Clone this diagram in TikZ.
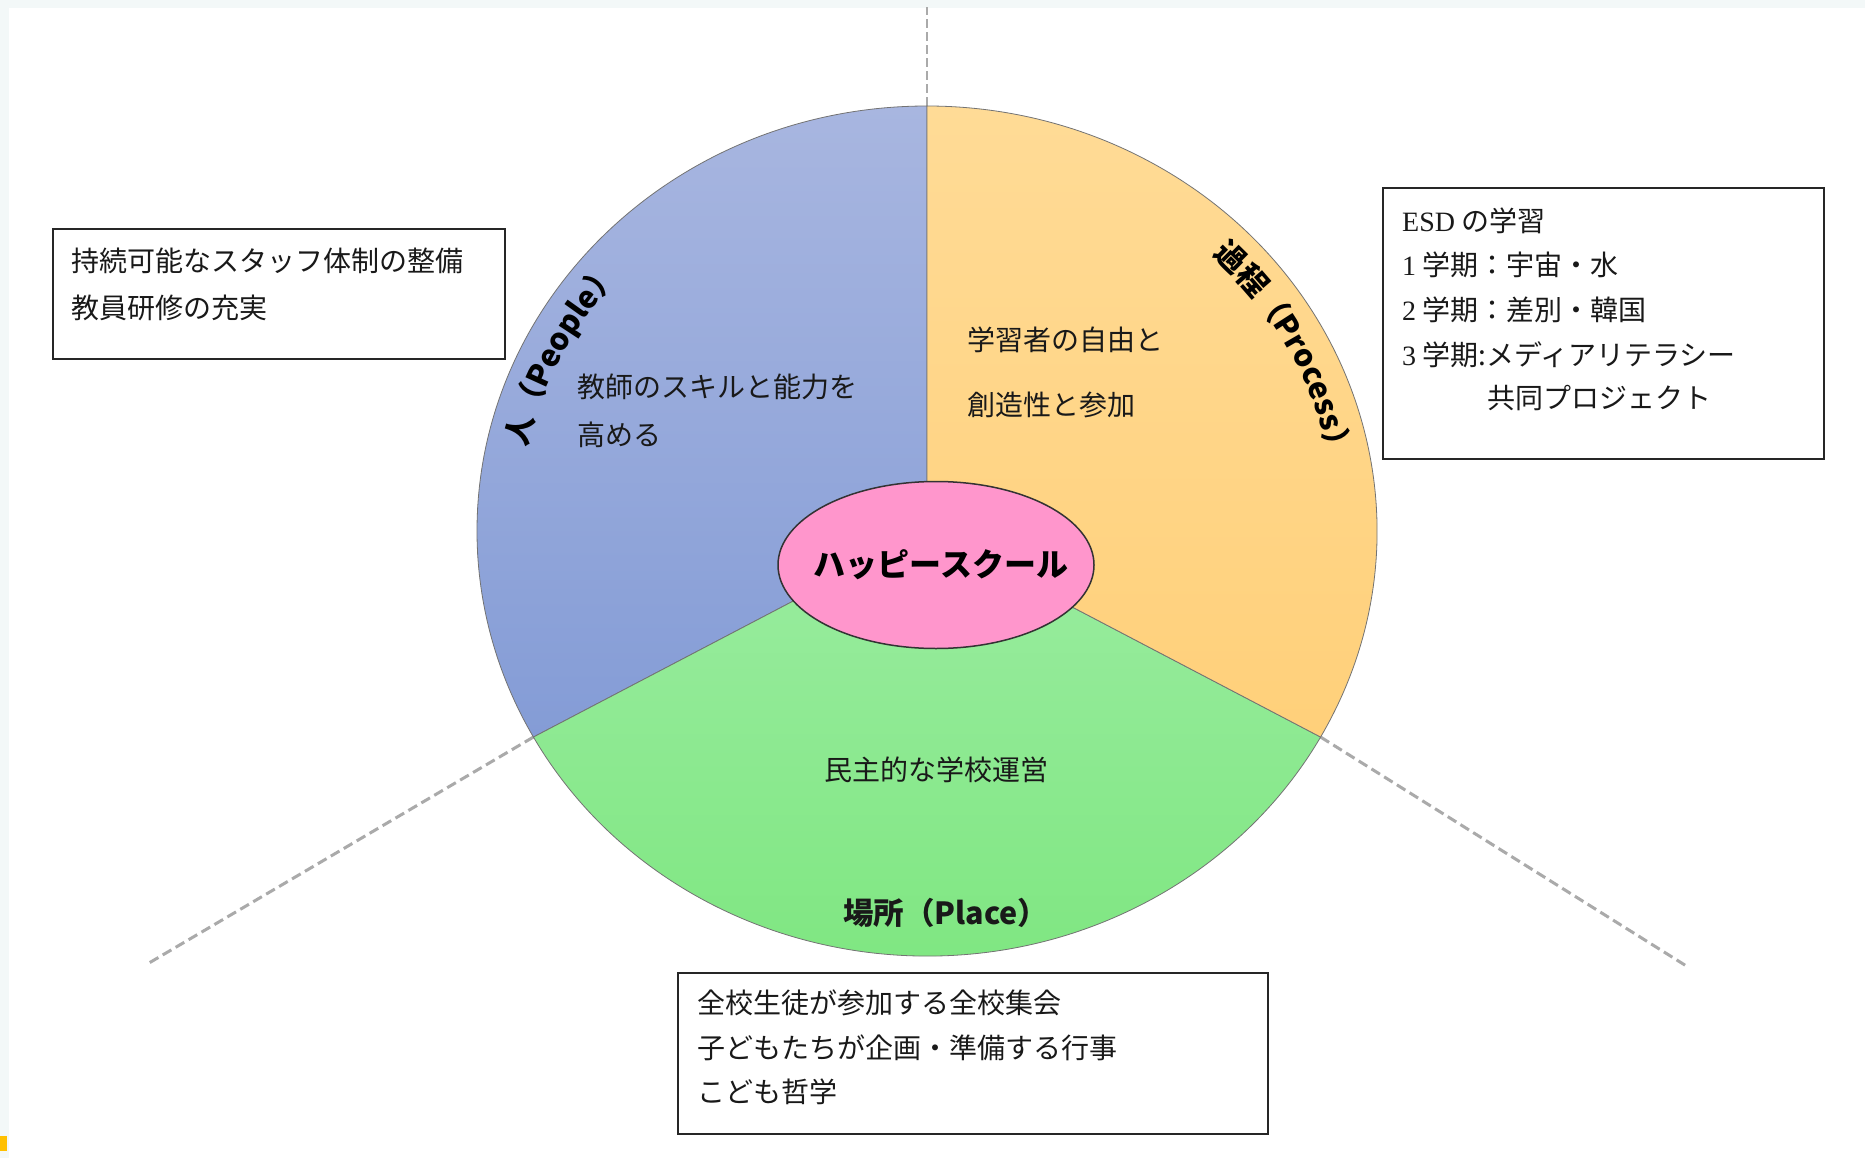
\documentclass[tikz,border=0pt]{standalone}
\usepackage{fontspec}
\newfontfamily\cjk{Noto Sans CJK JP}
\newfontfamily\lser{Liberation Serif}
\usetikzlibrary{shapes.geometric,decorations.text}
\newcommand\arcfont{\fontsize{30.5}{36}\selectfont\cjk\bfseries}
\definecolor{bgc}{RGB}{243,248,248}
\definecolor{markc}{RGB}{255,192,0}
\definecolor{blueT}{RGB}{168,182,224}
\definecolor{blueB}{RGB}{132,156,214}
\definecolor{orT}{RGB}{255,219,150}
\definecolor{orB}{RGB}{255,208,122}
\definecolor{grT}{RGB}{154,236,160}
\definecolor{grB}{RGB}{124,230,126}
\definecolor{hubpink}{RGB}{255,150,204}
\definecolor{dashc}{RGB}{170,170,170}
\begin{document}
\begin{tikzpicture}[x=1pt,y=1pt,
  txt/.style={anchor=base west, inner sep=0pt, font=\fontsize{28}{34}\selectfont\cjk, text=black!90},
  boxframe/.style={draw=black!85, line width=2pt, fill=white, inner sep=0pt, anchor=north west},
  dashline/.style={draw=dashc, line width=3pt, dash pattern=on 10pt off 5pt},
  rim/.style={draw=black!55, line width=0.8pt}]
\useasboundingbox (0,0) rectangle (1865,-1158);
\fill[bgc] (0,0) rectangle (1865,-1158);
\fill[white] (9,-8) rectangle (1865,-1158);
\fill[markc] (0,-1136) rectangle (7,-1151);

% geometry of the pie
\coordinate (C) at (927,-531);
\path (C) ++(90:450 and 425) coordinate (PT);
\path (C) ++(209:450 and 425) coordinate (PL);
\path (C) ++(331:450 and 425) coordinate (PR);
\coordinate (DT) at (927,-7);
\coordinate (DL) at (149,-963);
\coordinate (DR) at (1688,-967);

% dashed extension lines
\draw[dashline, line width=2.5pt, dash pattern=on 9pt off 4pt] (PT) -- (DT);
\draw[dashline] (PL) -- (DL);
\draw[dashline] (PR) -- (DR);

% sectors
\shade[top color=blueT, bottom color=blueB, rim] (C) -- (PT)
  arc[start angle=90, end angle=209, x radius=450, y radius=425] -- cycle;
\shade[top color=grT, bottom color=grB, rim] (C) -- (PL)
  arc[start angle=209, end angle=331, x radius=450, y radius=425] -- cycle;
\shade[top color=orT, bottom color=orB, rim] (C) -- (PR)
  arc[start angle=331, end angle=450, x radius=450, y radius=425] -- cycle;

% curved labels
\path[decorate, decoration={text along path, text align=center,
  text={|\arcfont|人（People）}}]
  (C) ++(175:410 and 385) arc[start angle=175, end angle=131, x radius=410, y radius=385];
\path[decorate, decoration={text along path, text align=center,
  text={|\arcfont|過程（Process）}}]
  (C) ++(50:410 and 385) arc[start angle=50, end angle=6, x radius=410, y radius=385];

% sector texts
\node[txt] (p1) at (577,-397) {教師のスキルと能力を};
\node[txt] (p2) at (577,-445) {高める};
\node[txt] (q1) at (967,-350) {学習者の自由と};
\node[txt] (q2) at (967,-415) {創造性と参加};
\node[txt] (r1) at (824,-780) {民主的な学校運営};
\node[txt, font=\fontsize{30.5}{36}\selectfont\cjk\bfseries] (r2) at (843,-924) {場所（Place）};

% hub
\node[ellipse, draw=black!80, line width=1.5pt, fill=hubpink, minimum width=316, minimum height=167,
  inner sep=0pt, font=\fontsize{32}{38}\selectfont\cjk\bfseries] (hub) at (936,-565)
  {\makebox[0pt]{\hspace*{10pt}ハッピースクール}};

% left box
\node[boxframe, minimum width=452, minimum height=130] (lbox) at (52,-228) {};
\node[txt] (l1) at (71,-272) {持続可能なスタッフ体制の整備};
\node[txt] (l2) at (71,-318) {教員研修の充実};

% right box
\node[boxframe, minimum width=441, minimum height=271] (rbox) at (1382,-187) {};
\node[txt] (e1) at (1402,-232) {{\lser ESD} の学習};
\node[txt] (e2) at (1402,-276) {{\lser 1} 学期：宇宙・水};
\node[txt] (e3) at (1402,-320) {{\lser 2} 学期：差別・韓国};
\node[txt] (e4) at (1402,-365) {{\lser 3} 学期:メディアリテラシー};
\node[txt] (e5) at (1487,-408) {共同プロジェクト};

% bottom box
\node[boxframe, minimum width=590, minimum height=161] (bbox) at (677,-972) {};
\node[txt] (b1) at (697,-1013) {全校生徒が参加する全校集会};
\node[txt] (b2) at (697,-1058) {子どもたちが企画・準備する行事};
\node[txt] (b3) at (697,-1102) {こども哲学};
\end{tikzpicture}
\end{document}
